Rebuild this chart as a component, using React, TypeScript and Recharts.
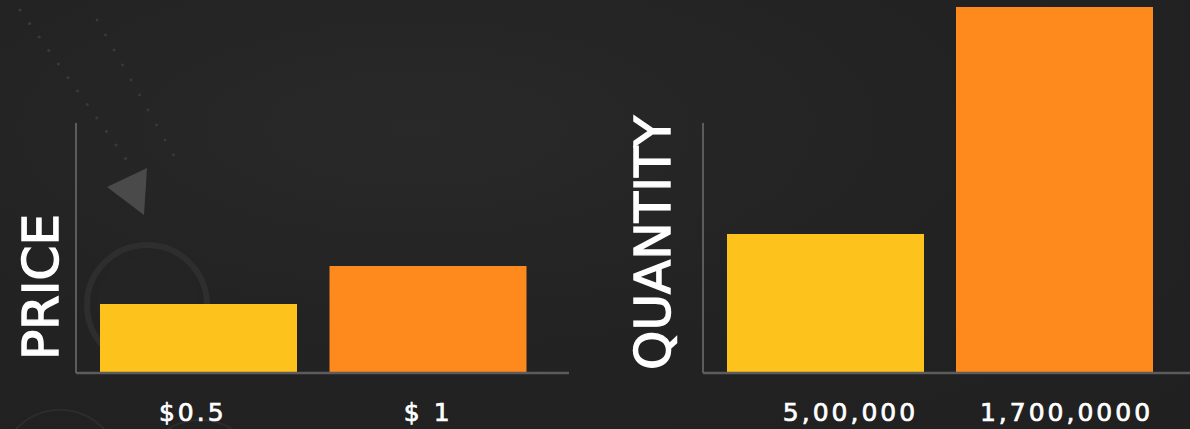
import React from 'react';
import { BarChart, Bar, XAxis, YAxis, Cell } from 'recharts';

// categories (tick labels) and bar heights
// (bar heights are relative: 100 = top of the drawn y axis line)
const priceLabels = ['$0.5', '$ 1'];
const priceValues = [27.6, 42.8];
const quantityLabels = ['5,00,000', '1,700,0000'];
const quantityValues = [55.6, 146.4];
const barColors = ['#FEC21C', '#FE891D'];

const AXIS_TOP_VALUE = 100; // y axis line stops here, bars may go above it
const Y_MAX = Math.max(...priceValues, ...quantityValues);

const W = 1190;
const H = 429;
const PLOT_TOP = 7;
const PLOT_BOTTOM = 373;
const plotH = PLOT_BOTTOM - PLOT_TOP;
const axisGap = plotH * (1 - AXIS_TOP_VALUE / Y_MAX);

const axisColor = '#5c5c5c';
const fontFamily = '"DejaVu Sans", sans-serif';

// tick label renderer, with small per-label nudges like the original
const makeTick = (shifts: number[]) => (props: any) => {
  const { x, y, payload, index } = props;
  return (
    <text
      x={x + (shifts[index] || 0)}
      y={y}
      dy={40}
      textAnchor="middle"
      fill="#ffffff"
      stroke="#ffffff"
      strokeWidth={0.7}
      fontFamily={fontFamily}
      fontSize={25}
      letterSpacing={3}
    >
      {payload.value}
    </text>
  );
};

interface PanelProps {
  labels: string[];
  values: number[];
  width: number;
  marginLeft: number;
  marginRight: number;
  padding: { left: number; right: number };
  shifts: number[];
}

const Panel: React.FC<PanelProps> = ({ labels, values, width, marginLeft, marginRight, padding, shifts }) => {
  const data = labels.map((label, i) => ({ label, value: values[i] }));
  return (
    <BarChart
      width={width}
      height={H}
      data={data}
      barSize={197}
      margin={{ top: PLOT_TOP, right: marginRight, left: marginLeft, bottom: 0 }}
    >
      <XAxis
        dataKey="label"
        height={H - PLOT_BOTTOM}
        interval={0}
        padding={padding}
        tickLine={false}
        axisLine={{ stroke: axisColor, strokeWidth: 2.5 }}
        tick={makeTick(shifts)}
      />
      <YAxis
        width={1}
        domain={[0, Y_MAX]}
        tick={false}
        tickLine={false}
        axisLine={{ stroke: axisColor, strokeWidth: 2, strokeDasharray: `0 ${axisGap} ${plotH}` }}
      />
      <Bar dataKey="value" isAnimationActive={false}>
        {data.map((d, i) => (
          <Cell key={`cell-${i}`} fill={barColors[i]} />
        ))}
      </Bar>
    </BarChart>
  );
};

const titleStyle: React.CSSProperties = {
  position: 'absolute',
  transform: 'translate(-50%, -50%) rotate(-90deg)',
  color: '#ffffff',
  fontFamily,
  fontSize: 50,
  lineHeight: 1,
  whiteSpace: 'nowrap',
  WebkitTextStroke: '1.4px #ffffff',
};

// faint artwork from the backdrop image
const Backdrop = () => (
  <svg width={W} height={H} style={{ position: 'absolute', left: 0, top: 0 }}>
    <g fill="#3a3a3a">
      {Array.from({ length: 12 }).map((_, i) => (
        <circle key={`a${i}`} cx={20 + i * 9.6} cy={10 + i * 13.5} r={1.6} />
      ))}
      {Array.from({ length: 10 }).map((_, i) => (
        <circle key={`b${i}`} cx={97 + i * 8.5} cy={20 + i * 15} r={1.4} />
      ))}
    </g>
    <polygon points="107,187 147,168 144,215" fill="#4a4a4a" />
    <circle cx={147} cy={305} r={60} fill="none" stroke="#2e2e2e" strokeWidth={6} />
    <circle cx={147} cy={305} r={50} fill="#242424" />
    <circle cx={60} cy={470} r={60} fill="none" stroke="#2c2c2c" strokeWidth={2} />
    <circle cx={200} cy={480} r={60} fill="none" stroke="#2c2c2c" strokeWidth={2} />
  </svg>
);

export default function App() {
  return (
    <div
      style={{
        position: 'absolute',
        left: 0,
        top: 0,
        width: W,
        height: H,
        overflow: 'hidden',
        background: 'radial-gradient(ellipse at 35% 30%, #292929 0%, #232323 45%, #202020 100%)',
      }}
    >
      <Backdrop />
      <div style={{ position: 'absolute', left: 0, top: 0 }}>
        <Panel
          labels={priceLabels}
          values={priceValues}
          width={600}
          marginLeft={75}
          marginRight={31}
          padding={{ left: 8, right: 26 }}
          shifts={[-6, 0]}
        />
      </div>
      <div style={{ position: 'absolute', left: 600, top: 0 }}>
        <Panel
          labels={quantityLabels}
          values={quantityValues}
          width={590}
          marginLeft={102}
          marginRight={0}
          padding={{ left: 8, right: 21 }}
          shifts={[25, 12]}
        />
      </div>
      <div style={{ ...titleStyle, left: 41, top: 287 }}>PRICE</div>
      <div style={{ ...titleStyle, left: 653, top: 243 }}>QUANTITY</div>
    </div>
  );
}
